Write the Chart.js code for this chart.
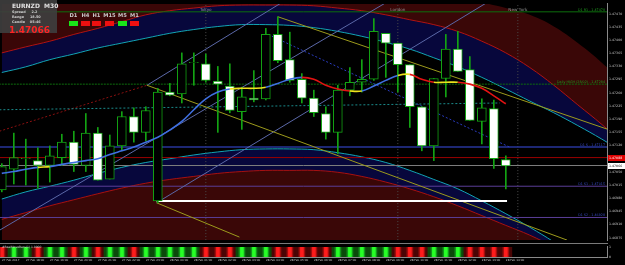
<!DOCTYPE html>
<html>
<head>
<meta charset="utf-8">
<script src="https://cdn.jsdelivr.net/npm/chart.js@4.4.1/dist/chart.umd.min.js"></script>
<style>
  html, body { margin: 0; padding: 0; background: #000; }
  body { width: 625px; height: 265px; overflow: hidden; position: relative; font-family: 'DejaVu Sans', sans-serif; }
  canvas { position: absolute; left: 0; }
  .t { position: absolute; white-space: nowrap; line-height: 1; }
  .sq { position: absolute; width: 9px; height: 5px; }
</style>
</head>
<body>
<canvas id="main" width="625" height="244" style="top:0"></canvas>
<canvas id="sub" width="625" height="22" style="top:243px"></canvas>

<div style="position:absolute;left:0;top:243px;width:608px;height:1px;background:#7a7a7a"></div>
<div style="position:absolute;left:0;top:0;width:57px;height:33px;background:rgba(62,62,62,0.92)"></div>
<div class="t" style="left:12px;top:2px;font:bold 6px 'DejaVu Sans';color:#e0e0e0">EURNZD&nbsp;&nbsp;M30</div>
<div class="t" style="left:12px;top:10px;font:bold 3.4px 'DejaVu Sans';color:#cfcfcf">Spread&nbsp;&nbsp;&nbsp;&nbsp;&nbsp;2.2</div>
<div class="t" style="left:12px;top:15px;font:bold 3.4px 'DejaVu Sans';color:#cfcfcf">Range&nbsp;&nbsp;&nbsp;&nbsp;&nbsp;18.50</div>
<div class="t" style="left:12px;top:20px;font:bold 3.4px 'DejaVu Sans';color:#cfcfcf">Candle&nbsp;&nbsp;&nbsp;&nbsp;05:46</div>
<div class="t" style="left:9px;top:25px;font:bold 9px 'DejaVu Sans';color:#ff2424">1.47066</div>
<div id="tf"></div>
<div class="t" style="left:2px;top:245px;font:3px 'DejaVu Sans';color:#d0d0d0">#RealMoveBars(1) 1.0000</div>

<script>
// ---- data ----
const opens  = [1.47002,1.47057,1.47085,1.47080,1.47067,1.47088,1.47129,1.47067,1.47153,1.47031,
                1.47119,1.47197,1.47155,1.46973,1.47262,1.47257,1.47340,1.47337,1.47291,1.47278,
                1.47210,1.47246,1.47244,1.47415,1.47348,1.47296,1.47246,1.47205,1.47155,1.47267,
                1.47288,1.47296,1.47418,1.47392,1.47335,1.47223,1.47119,1.47298,1.47376,1.47322,
                1.47184,1.47218,1.47083];
const highs  = [1.47072,1.47153,1.47137,1.47114,1.47119,1.47150,1.47158,1.47205,1.47168,1.47148,
                1.47210,1.47220,1.47223,1.47272,1.47285,1.47366,1.47366,1.47363,1.47330,1.47337,
                1.47275,1.47319,1.47431,1.47462,1.47421,1.47311,1.47267,1.47223,1.47280,1.47327,
                1.47348,1.47457,1.47418,1.47392,1.47335,1.47223,1.47298,1.47415,1.47423,1.47356,
                1.47244,1.47241,1.47093];
const lows   = [1.46997,1.47018,1.47015,1.47007,1.47023,1.47067,1.47051,1.47051,1.47028,1.47031,
                1.47106,1.47129,1.47132,1.46968,1.47252,1.47233,1.47280,1.47288,1.47155,1.47207,
                1.47163,1.47236,1.47241,1.47340,1.47288,1.47233,1.47197,1.47137,1.47098,1.47252,
                1.47262,1.47293,1.47301,1.47262,1.47168,1.47106,1.47080,1.47249,1.47317,1.47187,
                1.47124,1.47059,1.47005];
const closes = [1.47064,1.47088,1.47086,1.47067,1.47093,1.47129,1.47070,1.47153,1.47028,1.47119,
                1.47197,1.47155,1.47213,1.47262,1.47254,1.47337,1.47341,1.47293,1.47283,1.47213,
                1.47249,1.47241,1.47415,1.47345,1.47293,1.47246,1.47207,1.47155,1.47267,1.47288,
                1.47296,1.47423,1.47392,1.47335,1.47223,1.47119,1.47298,1.47376,1.47317,1.47187,
                1.47220,1.47085,1.47066];
const maValues = [1.47046,1.47051,1.47057,1.47062,1.47064,1.47070,1.47075,1.47080,1.47085,1.47096,
                  1.47106,1.47116,1.47129,1.47142,1.47161,1.47184,1.47215,1.47244,1.47262,1.47270,
                  1.47272,1.47272,1.47275,1.47285,1.47296,1.47301,1.47296,1.47280,1.47270,1.47265,
                  1.47265,1.47278,1.47293,1.47306,1.47309,1.47296,1.47288,1.47288,1.47288,1.47283,
                  1.47272,1.47252,1.47231];
const histState = [-1,1,1,-1,1,1,-1,1,-1,1, 1,-1,1,1,1,1,1,-1,-1,-1,
                   1,1,1,-1,-1,-1,-1,-1,1,1, 1,1,1,-1,-1,-1,1,1,1,-1, -1,-1,-1];

const timeTickSlots = [0,2,4,6,8,10,12,14,16,18,20,22,24,26,28,30,32,34,36,38,40,42];
const timeLabels = ['27 Feb 2017','27 Feb 18:00','27 Feb 19:00','27 Feb 20:00','27 Feb 21:00','27 Feb 22:00',
                    '27 Feb 23:00','28 Feb 00:00','28 Feb 01:00','28 Feb 02:00','28 Feb 03:00','28 Feb 04:00',
                    '28 Feb 05:00','28 Feb 06:00','28 Feb 07:00','28 Feb 08:00','28 Feb 09:00','28 Feb 10:00',
                    '28 Feb 11:00','28 Feb 12:00','28 Feb 13:00','28 Feb 14:00'];
const priceTicks = [1.47470,1.47435,1.47400,1.47365,1.47330,1.47295,1.47260,1.47225,1.47190,
                    1.47155,1.47120,1.47085,1.47050,1.47015,1.46980,1.46945,1.46910,1.46875];

// envelope arcs, sampled every second slot
const arcSlots  = [0,2,4,6,8,10,12,14,16,18,20,22,24,26,28,30,32,34,36,38,40,42,44,46,48,50,52];
const upperEdge = [1.47553,1.47553,1.47553,1.47553,1.47553,1.47553,1.47553,1.47553,1.47553,1.47553,
                   1.47553,1.47553,1.47553,1.47553,1.47553,1.47553,1.47553,1.47553,1.47553,1.47522,
                   1.47501,1.47485,1.47467,1.47436,1.47392,1.47340,1.47280];
const upperRed  = [1.47366,1.47382,1.47397,1.47415,1.47431,1.47449,1.47467,1.47478,1.47485,1.47491,
                   1.47493,1.47493,1.47493,1.47491,1.47485,1.47478,1.47467,1.47454,1.47441,1.47423,
                   1.47397,1.47366,1.47327,1.47280,1.47228,1.47176,1.47119];
const upperCyan = [1.47314,1.47329,1.47348,1.47363,1.47379,1.47392,1.47405,1.47418,1.47428,1.47436,
                   1.47441,1.47441,1.47439,1.47433,1.47423,1.47410,1.47394,1.47376,1.47353,1.47329,
                   1.47301,1.47270,1.47238,1.47207,1.47173,1.47137,1.47098];
const lowerCyan = [1.46978,1.46997,1.47012,1.47028,1.47046,1.47062,1.47075,1.47085,1.47095,1.47103,
                   1.47109,1.47111,1.47111,1.47109,1.47101,1.47090,1.47075,1.47054,1.47030,1.47005,
                   1.46973,1.46939,1.46903,1.46864,1.46820,1.46773,1.46721];
const lowerRed  = [1.46924,1.46942,1.46960,1.46976,1.46992,1.47007,1.47020,1.47030,1.47038,1.47046,
                   1.47051,1.47054,1.47054,1.47054,1.47049,1.47038,1.47023,1.47005,1.46984,1.46960,
                   1.46934,1.46908,1.46882,1.46851,1.46820,1.46786,1.46747];

// horizontal levels: R1, daily high, S, ask, bid, S1, S2
const levelPrices = [1.47475,1.47283,1.47116,1.47088,1.47067,1.47012,1.46929];
const levelTags = ['D1 R1 - 1.47478','Daily HIGH (28/02) - 1.47284','D1 S - 1.47117','','','D1 S1 - 1.47015','D1 S2 - 1.46928'];
const trendYellow = [[12.1,1.47280,47.1,1.46869],[23.0,1.47462,50.5,1.47163],[12.9,1.46968,19.8,1.46877]];
const trendSlate  = [[-0.2,1.46895,32.1,1.47501],[12.1,1.47280,23.4,1.47501],[12.9,1.46968,40.5,1.47501]];
const trendDotted = [[-0.2,1.47158,12.1,1.47280],[22.2,1.47415,42.3,1.47116],[-0.2,1.47215,41.5,1.47233]];
const supportLine = [12.9,42.1,1.46973];
const sessionSlots = [17,33,43];
const sessionNames = ['Tokyo','London','New York'];
const askPrice = 1.47088, bidPrice = 1.47066;
const tfNames = ['D1','H4','H1','M15','M5','M1'];
const tfState = [1,-1,-1,-1,1,-1];

// ---- drawing ----
const X_MIN = -0.15, X_MAX = 50.43, Y_MIN = 1.46869, Y_MAX = 1.47496;
const tinyFont = { size: 3.2, family: 'DejaVu Sans' };
const idx = opens.map((_, i) => i);
const xy = (xs, ys) => xs.map((x, k) => ({ x: x, y: ys[k] }));
const line = (data, color, width, dash, extra) => Object.assign({
  type: 'line', data: data, borderColor: color, borderWidth: width, borderDash: dash || [],
  pointRadius: 0, fill: false, tension: 0
}, extra || {});

// bands are layered: each fill runs to the chart edge, later ones paint over earlier ones
const sets = [];
sets.push(line(xy(arcSlots, upperCyan), '#12a4b4', 1, null, { fill: 'end', backgroundColor: '#07073c', tension: 0.4 }));
sets.push(line(xy(arcSlots, upperRed), '#b01212', 1, null, { fill: 'end', backgroundColor: '#3a0707', tension: 0.4 }));
sets.push(line(xy(arcSlots, upperEdge), 'rgba(0,0,0,0)', 0, null, { fill: 'end', backgroundColor: '#000000', tension: 0.4 }));
sets.push(line(xy(arcSlots, lowerCyan), '#12a4b4', 1, null, { fill: 'start', backgroundColor: '#07073c', tension: 0.4 }));
sets.push(line(xy(arcSlots, lowerRed), '#a81010', 1, null, { fill: 'start', backgroundColor: '#3a0707', tension: 0.4 }));

sessionSlots.forEach(s => sets.push(line([{ x: s, y: Y_MIN }, { x: s, y: Y_MAX }], '#4a4a4a', 1, [1, 2])));

const levelStyle = [['#0d6e0d', 1, []], ['#0d6e0d', 1, [2, 1]], ['#27359a', 1.5, []], ['#9a0000', 1, []],
                    ['#7c7c7c', 1, []], ['#5a3e98', 1, []], ['#5a3e98', 1, []]];
levelPrices.forEach((p, k) => sets.push(line([{ x: -1, y: p }, { x: 52, y: p }], levelStyle[k][0], levelStyle[k][1], levelStyle[k][2])));

trendSlate.forEach(t => sets.push(line([{ x: t[0], y: t[1] }, { x: t[2], y: t[3] }], '#5b68a8', 1)));
const dottedColors = ['#8a1010', '#2a3cc0', '#1a8a8a'];
trendDotted.forEach((t, k) => sets.push(line([{ x: t[0], y: t[1] }, { x: t[2], y: t[3] }], dottedColors[k], 1, [2, 2])));
trendYellow.forEach(t => sets.push(line([{ x: t[0], y: t[1] }, { x: t[2], y: t[3] }], '#9c9a1c', 1)));
sets.push(line([{ x: supportLine[0], y: supportLine[2] }, { x: supportLine[1], y: supportLine[2] }], '#ffffff', 2));

sets.push({
  type: 'bar', data: idx.map(i => ({ x: i, y: [lows[i], highs[i]] })),
  backgroundColor: '#13a313', barThickness: 1, grouped: false
});
sets.push({
  type: 'bar', data: idx.map(i => ({ x: i, y: [opens[i], closes[i]] })),
  backgroundColor: c => closes[c.dataIndex] < opens[c.dataIndex] ? '#ffffff' : '#000000',
  borderColor: '#13a313', borderWidth: 1, borderSkipped: false, barThickness: 9, grouped: false
});
sets.push(line(xy(idx, maValues), '#3f6fe0', 1.6, null, {
  tension: 0.4,
  segment: { borderColor: c => {
    const d = c.p1.parsed.y - c.p0.parsed.y;
    return d > 0.00003 ? '#3f6fe0' : (d < -0.00003 ? '#e41212' : '#ece21c');
  } }
}));
sets.forEach((s, k) => { s.order = sets.length - k; });

const overlayText = {
  id: 'overlayText',
  afterDraw(chart) {
    const { ctx, chartArea } = chart;
    const x = chart.scales.x, y = chart.scales.y;
    ctx.save();
    ctx.font = '4.2px "DejaVu Sans"';
    ctx.fillStyle = '#8e8e8e';
    ctx.textAlign = 'center';
    ctx.textBaseline = 'middle';
    sessionNames.forEach((n, k) => ctx.fillText(n, x.getPixelForValue(sessionSlots[k]), chartArea.top + 6));
    ctx.font = '3.3px "DejaVu Sans"';
    ctx.textAlign = 'right';
    ctx.textBaseline = 'bottom';
    levelTags.forEach((t, k) => {
      if (!t) return;
      ctx.fillStyle = k < 2 ? '#1f9a1f' : '#3548c0';
      ctx.fillText(t, chartArea.right - 2, y.getPixelForValue(levelPrices[k]) - 0.5);
    });
    ctx.font = '3.2px "DejaVu Sans"';
    ctx.textAlign = 'left';
    ctx.textBaseline = 'middle';
    [[askPrice, '#e00000', '#ffffff'], [bidPrice, '#ffffff', '#000000']].forEach(b => {
      const py = Math.round(y.getPixelForValue(b[0]));
      ctx.fillStyle = b[1];
      ctx.fillRect(chartArea.right + 1, py - 3, 17, 6);
      ctx.fillStyle = b[2];
      ctx.fillText(b[0].toFixed(5), chartArea.right + 2, py);
    });
    ctx.restore();
  }
};

new Chart(document.getElementById('main'), {
  type: 'bar',
  data: { datasets: sets },
  options: {
    responsive: false, animation: false, devicePixelRatio: 1,
    layout: { padding: { top: 2, bottom: 1, left: 0, right: 0 } },
    plugins: { legend: { display: false }, tooltip: { enabled: false } },
    scales: {
      x: { type: 'linear', min: X_MIN, max: X_MAX, offset: false, display: false },
      y: {
        type: 'linear', position: 'right', min: Y_MIN, max: Y_MAX,
        afterBuildTicks: s => { s.ticks = priceTicks.map(v => ({ value: v })); },
        afterFit: s => { s.width = 18; },
        grid: { display: false, drawTicks: false },
        border: { color: '#8a8a8a' },
        ticks: { color: '#c8c8c8', font: tinyFont, padding: 2, autoSkip: false,
                 callback: v => v.toFixed(5) }
      }
    }
  },
  plugins: [overlayText]
});

// indicator sub-window
const pal = { g: ['#0b4a0b', '#12951a', '#27ff27'], r: ['#4a0505', '#a20c0c', '#ff1c1c'] };
const histSets = [12, 6, 3].map((w, k) => ({
  type: 'bar', data: idx.map(i => ({ x: i, y: 1 })), barThickness: w, grouped: false, order: 3 - k,
  backgroundColor: c => pal[histState[c.dataIndex] > 0 ? 'g' : 'r'][k]
}));
new Chart(document.getElementById('sub'), {
  type: 'bar',
  data: { datasets: histSets },
  options: {
    responsive: false, animation: false, devicePixelRatio: 1,
    layout: { padding: { top: 1, bottom: 0, left: 0, right: 0 } },
    plugins: { legend: { display: false }, tooltip: { enabled: false } },
    scales: {
      x: {
        type: 'linear', min: X_MIN, max: X_MAX, offset: false,
        afterBuildTicks: s => { s.ticks = timeTickSlots.map(v => ({ value: v })); },
        afterFit: s => { s.height = 8; },
        grid: { display: false, drawTicks: false },
        border: { color: '#8a8a8a' },
        ticks: { color: '#c8c8c8', font: { size: 2.8, family: 'DejaVu Sans' }, padding: 2, align: 'start',
                 autoSkip: false, maxRotation: 0, callback: (v, k) => timeLabels[k] }
      },
      y: {
        type: 'linear', position: 'right', min: 0, max: 1,
        afterBuildTicks: s => { s.ticks = [{ value: 1 }, { value: 0 }]; },
        afterFit: s => { s.width = 18; },
        grid: { display: false, drawTicks: false },
        border: { color: '#8a8a8a' },
        ticks: { color: '#c8c8c8', font: tinyFont, padding: 2 }
      }
    }
  }
});

// timeframe status squares
const tfSquareLeft = [69, 81, 92, 105, 118, 130];
const tf = document.getElementById('tf');
tfNames.forEach((n, k) => {
  const left = tfSquareLeft[k];
  const lab = document.createElement('div');
  lab.className = 't';
  lab.style.cssText = 'left:' + (left - 3) + 'px;top:12px;width:15px;text-align:center;font:bold 5.2px "DejaVu Sans";color:#c8c8c8';
  lab.textContent = n;
  tf.appendChild(lab);
  const sq = document.createElement('div');
  sq.className = 'sq';
  sq.style.left = left + 'px';
  sq.style.top = '21px';
  sq.style.background = tfState[k] > 0 ? '#19e619' : '#ee1010';
  tf.appendChild(sq);
});
</script>
</body>
</html>
